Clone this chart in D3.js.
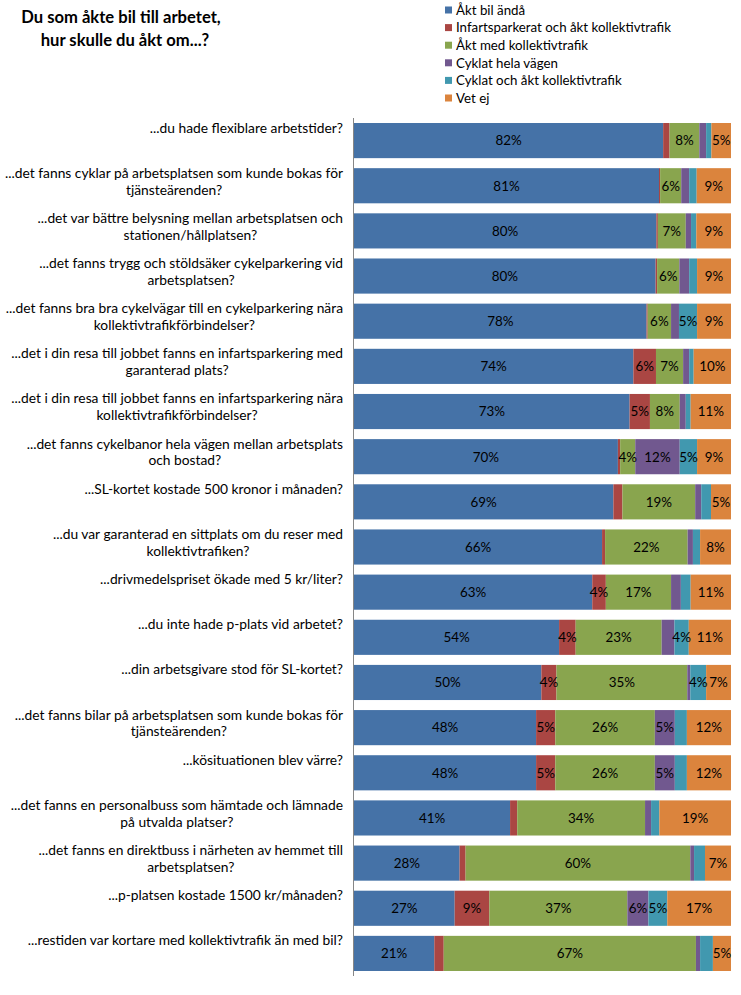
<!DOCTYPE html>
<html>
<head>
<meta charset="utf-8">
<script src="https://cdn.jsdelivr.net/npm/d3@7"></script>
<style>
  html, body { margin: 0; padding: 0; background: #fff; }
  svg { display: block; }
  text { font-family: Lato, "Open Sans", sans-serif; fill: #000; }
</style>
</head>
<body>
<svg id="chart" width="741" height="995"></svg>
<script>
// ---------- DATA ----------
const categories = [
  "...du hade flexiblare arbetstider?",
  "...det fanns cyklar på arbetsplatsen som kunde bokas för\ntjänsteärenden?",
  "...det var bättre belysning mellan arbetsplatsen och\nstationen/hållplatsen?",
  "...det fanns trygg och stöldsäker cykelparkering vid\narbetsplatsen?",
  "...det fanns bra bra cykelvägar till en cykelparkering nära\nkollektivtrafikförbindelser?",
  "...det i din resa till jobbet fanns en infartsparkering med\ngaranterad plats?",
  "...det i din resa till jobbet fanns en infartsparkering nära\nkollektivtrafikförbindelser?",
  "...det fanns cykelbanor hela vägen mellan arbetsplats\noch bostad?",
  "...SL-kortet kostade 500 kronor i månaden?",
  "...du var garanterad en sittplats om du reser med\nkollektivtrafiken?",
  "...drivmedelspriset ökade med 5 kr/liter?",
  "...du inte hade p-plats vid arbetet?",
  "...din arbetsgivare stod för SL-kortet?",
  "...det fanns bilar på arbetsplatsen som kunde bokas för\ntjänsteärenden?",
  "...kösituationen blev värre?",
  "...det fanns en personalbuss som hämtade och lämnade\npå utvalda platser?",
  "...det fanns en direktbuss i närheten av hemmet till\narbetsplatsen?",
  "...p-platsen kostade 1500 kr/månaden?",
  "...restiden var kortare med kollektivtrafik än med bil?"
];

const seriesNames = [
  "Åkt bil ändå",
  "Infartsparkerat och åkt kollektivtrafik",
  "Åkt med kollektivtrafik",
  "Cyklat hela vägen",
  "Cyklat och åkt kollektivtrafik",
  "Vet ej"
];

const aktBilAnda     = [82.0, 80.9, 80.2, 80.0, 77.6, 74.1, 73.1, 70.0, 68.8, 65.8, 63.2, 54.4, 49.7, 48.3, 48.3, 41.4, 28.0, 26.7, 21.3];
const infartKollektiv= [ 1.7,  0.3,  0.4,  0.4,  0.3,  6.0,  5.4,  0.6,  2.4,  0.8,  3.6,  4.4,  4.0,  5.1,  5.1,  1.9,  1.6,  9.2,  2.5];
const aktKollektiv   = [ 7.9,  5.6,  7.4,  5.9,  6.2,  7.2,  7.9,  4.0, 19.3, 21.9, 17.3, 22.8, 34.7, 26.4, 26.4, 33.9, 59.6, 36.6, 66.9];
const cykladHela     = [ 1.8,  2.1,  1.4,  2.6,  2.1,  1.6,  1.6, 11.8,  1.6,  1.4,  2.6,  3.4,  0.8,  5.3,  5.3,  1.6,  1.0,  5.6,  1.1];
const cykladKollektiv= [ 1.4,  2.0,  1.4,  2.1,  4.8,  1.2,  1.3,  4.6,  2.6,  1.9,  2.6,  3.8,  4.2,  3.2,  3.2,  2.2,  2.9,  5.0,  3.4];
const vetEj          = [ 5.2,  9.1,  9.2,  9.0,  9.0,  9.9, 10.7,  9.0,  5.3,  8.2, 10.7, 11.2,  6.6, 11.7, 11.7, 19.0,  6.9, 16.9,  4.8];

const seriesValues = [aktBilAnda, infartKollektiv, aktKollektiv, cykladHela, cykladKollektiv, vetEj];
const colors = ["#4572A7", "#AA4643", "#89A54E", "#71588F", "#4198AF", "#DB843D"];

// ---------- LAYOUT ----------
const svg = d3.select("#chart");
const plotLeft = 353.5, plotRight = 731, plotTop = 118, plotBottom = 976;

const keys = seriesNames;
const rows = categories.map((c, i) => {
  const o = { cat: c, idx: i };
  keys.forEach((k, j) => o[k] = seriesValues[j][i]);
  return o;
});

const x = d3.scaleLinear().domain([0, 100]).range([plotLeft + 0.5, plotRight]);
const y = d3.scaleBand().domain(d3.range(categories.length)).range([plotTop, plotBottom])
  .paddingInner(0.222).paddingOuter(0.111);
const color = d3.scaleOrdinal().domain(keys).range(colors);

const stack = d3.stack().keys(keys);
const stacked = stack(rows);

// bars
const g = svg.append("g");
stacked.forEach(layer => {
  g.append("g").attr("fill", color(layer.key))
    .selectAll("rect").data(layer).join("rect")
    .attr("x", d => x(d[0]))
    .attr("y", d => y(d.data.idx))
    .attr("width", d => Math.max(0, x(d[1]) - x(d[0])))
    .attr("height", y.bandwidth());
});

// value labels
stacked.forEach(layer => {
  g.append("g").selectAll("text")
    .data(layer.filter(d => (d[1] - d[0]) >= 3.5))
    .join("text")
    .attr("x", d => (x(d[0]) + x(d[1])) / 2)
    .attr("y", d => y(d.data.idx) + y.bandwidth() / 2)
    .attr("dy", "0.36em")
    .attr("text-anchor", "middle")
    .attr("font-size", 13.4)
    .text(d => Math.round(d[1] - d[0]) + "%");
});

// axis line
svg.append("line")
  .attr("x1", plotLeft).attr("x2", plotLeft)
  .attr("y1", plotTop).attr("y2", plotBottom)
  .attr("stroke", "#868686").attr("stroke-width", 1);

// category labels
const labelRight = 343;
const labG = svg.append("g");
categories.forEach((c, i) => {
  const lines = c.split("\n");
  const cy = y(i) + y.bandwidth() / 2;
  const t = labG.append("text").attr("font-size", 13.8).attr("text-anchor", "middle");
  const spans = lines.map((ln, k) => t.append("tspan").text(ln));
  const widths = spans.map(s => s.node().getComputedTextLength());
  const maxW = d3.max(widths);
  const cx = labelRight - maxW / 2;
  spans.forEach((s, k) => s.attr("x", cx).attr("y", cy - 13 + k * 16.8).attr("dy", "0.36em"));
});

// title
const title = svg.append("text").attr("text-anchor", "middle")
  .attr("font-size", 16.6).attr("font-weight", "bold");
title.append("tspan").attr("x", 121).attr("y", 17).attr("dy", "0.36em").text("Du som åkte bil till arbetet,");
title.append("tspan").attr("x", 125).attr("y", 40).attr("dy", "0.36em").text("hur skulle du åkt om...?");

// legend
const leg = svg.append("g");
keys.forEach((k, i) => {
  const ly = 10 + i * 17.6;
  leg.append("rect").attr("x", 445).attr("y", ly - 3.5).attr("width", 7).attr("height", 7).attr("fill", color(k));
  leg.append("text").attr("x", 456).attr("y", ly).attr("dy", "0.36em")
    .attr("font-size", 13.3).text(k);
});
</script>
</body>
</html>
